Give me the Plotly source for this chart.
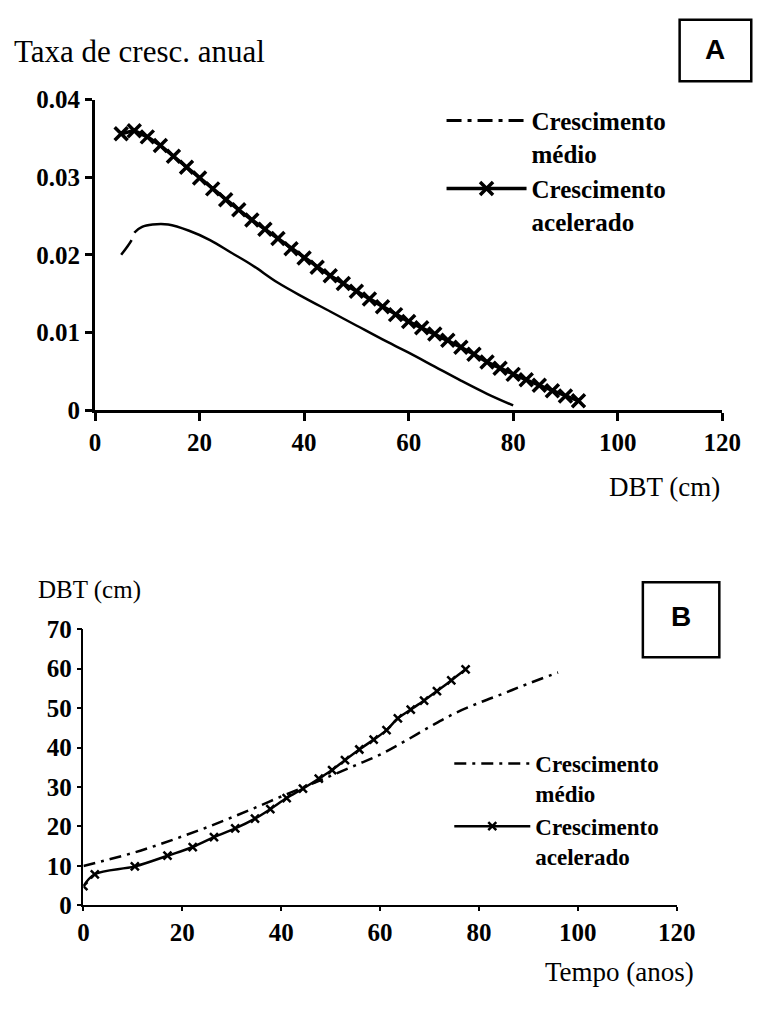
import plotly.graph_objects as go

W, H = 778, 1009

# ---------------- Data ----------------
# Panel A: annual growth rate vs DBT (cm)
A_acel_x = [5, 7.5, 10, 12.5, 15, 17.5, 20, 22.5, 25, 27.5, 30, 32.5, 35, 37.5, 40, 42.5,
            45, 47.5, 50, 52.5, 55, 57.5, 60, 62.5, 65, 67.5, 70, 72.5, 75, 77.5, 80, 82.5,
            85, 87.5, 90, 92.5]
A_acel_y = [0.0356, 0.0360, 0.0352, 0.0341, 0.0327, 0.0313, 0.0299, 0.0285, 0.0271, 0.0258,
            0.0245, 0.0233, 0.0221, 0.0208, 0.0196, 0.0184, 0.0173, 0.0163, 0.0153, 0.0143,
            0.0133, 0.0123, 0.0114, 0.0106, 0.0098, 0.0090, 0.0081, 0.0072, 0.0062, 0.0054,
            0.0046, 0.0039, 0.0032, 0.0025, 0.0018, 0.0012]
A_medio_x = [5, 7, 7.6, 9, 11, 14, 18, 22, 26, 30, 35, 40, 45, 50, 55, 60, 65, 70, 75, 80]
A_medio_y = [0.0200, 0.0219, 0.0229, 0.0236, 0.0239, 0.0239, 0.0231, 0.0219, 0.0203, 0.0187,
             0.0164, 0.0145, 0.0127, 0.0109, 0.0091, 0.0074, 0.0056, 0.0038, 0.0021, 0.0006]
A_xticks = [0, 20, 40, 60, 80, 100, 120]
A_yticks = [0, 0.01, 0.02, 0.03, 0.04]
A_yticklabels = ["0", "0.01", "0.02", "0.03", "0.04"]

# Panel B: DBT (cm) vs time (years)
B_acel_x = [0, 2.3, 10.4, 17.0, 22.1, 26.4, 30.7, 34.7, 37.8, 41.1, 44.4, 47.6, 50.3, 52.9,
            55.8, 58.7, 61.3, 63.6, 66.2, 68.9, 71.5, 74.4, 77.3]
B_acel_y = [4.9, 7.9, 9.9, 12.6, 14.8, 17.3, 19.5, 22.0, 24.4, 27.2, 29.6, 32.1, 34.3, 36.8,
            39.5, 42.0, 44.4, 47.4, 49.6, 51.9, 54.3, 57.0, 59.8]
B_medio_x = [0, 5, 10, 15, 20, 25, 30, 35, 40, 45, 50, 55, 60, 65, 70, 75, 80, 85, 90, 96]
B_medio_y = [10, 11.6, 13.3, 15.3, 17.5, 19.8, 22.3, 24.9, 27.6, 30.2, 32.8, 35.5, 38.2,
             41.6, 45.2, 48.6, 51.3, 53.7, 56.2, 59.0]
B_xticks = [0, 20, 40, 60, 80, 100, 120]
B_yticks = [0, 10, 20, 30, 40, 50, 60, 70]

name_medio = "Crescimento<br>médio"
name_acel = "Crescimento<br>acelerado"

# ---------------- Helpers ----------------
def px(p):
    return p / W

def py(p):
    return 1 - p / H

SERIF = "Liberation Serif, Times New Roman, serif"
SANS = "Liberation Sans, Arial, sans-serif"
BLACK = "black"

fig = go.Figure()

# Panel A traces
fig.add_trace(go.Scatter(x=A_medio_x, y=A_medio_y, mode="lines", line_shape="spline",
                         line=dict(color=BLACK, width=2.5, dash="18px,8px,5000px"),
                         showlegend=False, xaxis="x", yaxis="y"))
fig.add_trace(go.Scatter(x=[None], y=[None], mode="lines", name=name_medio,
                         line=dict(color=BLACK, width=3, dash="15px,6px,4px,6px"),
                         legend="legend", xaxis="x", yaxis="y"))
fig.add_trace(go.Scatter(x=A_acel_x, y=A_acel_y, mode="lines+markers", name=name_acel,
                         line=dict(color=BLACK, width=3.5),
                         marker=dict(symbol="x-thin", size=13, color=BLACK,
                                     line=dict(color=BLACK, width=3.5)),
                         legend="legend", xaxis="x", yaxis="y"))

# Panel B traces
fig.add_trace(go.Scatter(x=B_medio_x, y=B_medio_y, mode="lines", name=name_medio,
                         line_shape="spline",
                         line=dict(color=BLACK, width=2.5, dash="12px,6px,3px,6px"),
                         legend="legend2", xaxis="x2", yaxis="y2"))
fig.add_trace(go.Scatter(x=B_acel_x, y=B_acel_y, mode="lines+markers", name=name_acel,
                         line_shape="spline",
                         line=dict(color=BLACK, width=2.5),
                         marker=dict(symbol="x-thin", size=8, color=BLACK,
                                     line=dict(color=BLACK, width=2.5)),
                         legend="legend2", xaxis="x2", yaxis="y2"))

tickfont = dict(family=SERIF, size=25, color=BLACK, weight="bold")
legfontA = dict(family=SERIF, size=25, color=BLACK, weight="bold")
legfontB = dict(family=SERIF, size=23, color=BLACK, weight="bold")

common_axis = dict(showgrid=False, zeroline=False, showline=True, linecolor=BLACK,
                   ticks="outside", tickcolor=BLACK, tickfont=tickfont)

fig.update_layout(
    width=W, height=H, autosize=False,
    margin=dict(l=0, r=0, t=0, b=0, pad=0),
    paper_bgcolor="white", plot_bgcolor="white",
    xaxis=dict(common_axis, domain=[px(92), px(740)], range=[0, 120], anchor="y",
               tickvals=A_xticks, linewidth=3, ticklen=8, tickwidth=2.5),
    yaxis=dict(common_axis, domain=[py(408), py(89)], range=[0, 0.04], anchor="x",
               tickvals=A_yticks, ticktext=A_yticklabels, linewidth=3, ticklen=7,
               tickwidth=2.5),
    xaxis2=dict(common_axis, domain=[px(80), px(693)], range=[0, 120], anchor="y2",
                tickvals=B_xticks, linewidth=1.5, ticklen=4, tickwidth=1.5),
    yaxis2=dict(common_axis, domain=[py(917), py(633)], range=[0, 70], anchor="x2",
                tickvals=B_yticks, linewidth=1.5, ticklen=5, tickwidth=1.5),
    legend=dict(x=px(450), y=py(87), xanchor="left", yanchor="top", itemwidth=80,
                valign="top", font=legfontA, bgcolor="rgba(0,0,0,0)", borderwidth=0,
                tracegroupgap=0),
    legend2=dict(x=px(458), y=py(749), xanchor="left", yanchor="top", itemwidth=76,
                 valign="top", font=legfontB, bgcolor="rgba(0,0,0,0)", borderwidth=0,
                 tracegroupgap=0),
)

# Titles / labels
ann = [
    dict(text="Taxa de cresc. anual", x=px(6), y=py(40), xanchor="left", yanchor="middle",
         font=dict(family=SERIF, size=31, color=BLACK)),
    dict(text="DBT (cm)", x=px(740), y=py(487), xanchor="right", yanchor="middle",
         font=dict(family=SERIF, size=27, color=BLACK)),
    dict(text="DBT (cm)", x=px(31), y=py(593), xanchor="left", yanchor="middle",
         font=dict(family=SERIF, size=25, color=BLACK)),
    dict(text="Tempo (anos)", x=px(713), y=py(985), xanchor="right", yanchor="middle",
         font=dict(family=SERIF, size=27, color=BLACK)),
    dict(text="<b>A</b>", x=px(733), y=py(38), xanchor="center", yanchor="middle",
         font=dict(family=SANS, size=28, color=BLACK)),
    dict(text="<b>B</b>", x=px(697), y=py(620), xanchor="center", yanchor="middle",
         font=dict(family=SANS, size=28, color=BLACK)),
]
for a in ann:
    fig.add_annotation(xref="paper", yref="paper", showarrow=False, **a)

fig.add_shape(type="rect", xref="paper", yref="paper", x0=px(696), x1=px(770),
              y0=py(70), y1=py(7), line=dict(color=BLACK, width=2.5))
fig.add_shape(type="rect", xref="paper", yref="paper", x0=px(658), x1=px(737),
              y0=py(662), y1=py(585), line=dict(color=BLACK, width=2.5))

fig.write_html("out.html")
